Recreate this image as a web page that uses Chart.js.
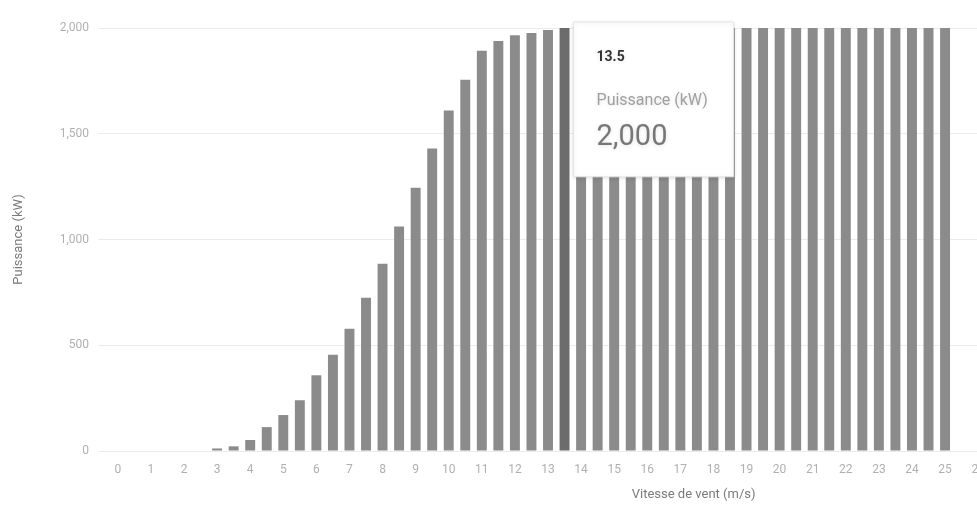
<!DOCTYPE html>
<html>
<head>
<meta charset="utf-8">
<script src="https://cdn.jsdelivr.net/npm/chart.js@4.4.1/dist/chart.umd.min.js"></script>
<style>
  html, body { margin: 0; padding: 0; background: #ffffff; overflow: hidden; }
  #wrap { position: absolute; left: 0; top: 0; width: 1010px; height: 513px; }
</style>
</head>
<body>
<div id="wrap"><canvas id="c"></canvas></div>
<script>
// ---- data ----
const windSpeeds = [0, 0.5, 1, 1.5, 2, 2.5, 3, 3.5, 4, 4.5, 5, 5.5, 6, 6.5, 7, 7.5, 8, 8.5, 9, 9.5,
  10, 10.5, 11, 11.5, 12, 12.5, 13, 13.5, 14, 14.5, 15, 15.5, 16, 16.5, 17, 17.5, 18, 18.5, 19, 19.5,
  20, 20.5, 21, 21.5, 22, 22.5, 23, 23.5, 24, 24.5, 25];
const powerKW = [0, 0, 0, 0, 0, 0, 12, 22, 52, 113, 170, 240, 358, 455, 578, 725, 885, 1062, 1245, 1430,
  1610, 1755, 1892, 1938, 1966, 1976, 1990, 2000, 2000, 2000, 2000, 2000, 2000, 2000, 2000, 2000, 2000, 2000, 2000, 2000,
  2000, 2000, 2000, 2000, 2000, 2000, 2000, 2000, 2000, 2000, 2000];
const xTickValues = [0, 1, 2, 3, 4, 5, 6, 7, 8, 9, 10, 11, 12, 13, 14, 15, 16, 17, 18, 19, 20, 21, 22, 23, 24, 25, 26];
const yTickValues = [0, 500, 1000, 1500, 2000];
const seriesName = 'Puissance (kW)';
const xTitle = 'Vitesse de vent (m/s)';
const yTitle = 'Puissance (kW)';
const tooltipIndex = 27; // 13.5 m/s

const FONT = 'Roboto, "Noto Sans", Arial, sans-serif';
const fmt = new Intl.NumberFormat('en-US');

Chart.Tooltip.positioners.besideBar = function (elements) {
  if (!elements.length) return false;
  const el = elements[0].element;
  return { x: el.x + 9, y: this.chart.chartArea.top - 6 };
};

const xTitlePlugin = {
  id: 'xTitlePlugin',
  afterDraw(chart) {
    const xs = chart.scales.x;
    const ctx = chart.ctx;
    ctx.save();
    ctx.font = '13px ' + FONT;
    ctx.fillStyle = '#7a7a7a';
    ctx.textAlign = 'center';
    ctx.textBaseline = 'middle';
    ctx.fillText(xTitle, xs.getPixelForValue(17.4), xs.top + 44);
    ctx.restore();
  }
};

const tooltipShadow = {
  id: 'tooltipShadow',
  beforeTooltipDraw(chart) {
    const ctx = chart.ctx;
    ctx.save();
    ctx.shadowColor = 'rgba(0,0,0,0.12)';
    ctx.shadowBlur = 4;
    ctx.shadowOffsetY = 1;
  },
  afterTooltipDraw(chart) {
    chart.ctx.restore();
  }
};

const chart = new Chart(document.getElementById('c'), {
  type: 'bar',
  data: {
    datasets: [{
      label: seriesName,
      data: windSpeeds.map((s, i) => ({ x: s, y: powerKW[i] })),
      backgroundColor: '#8b8b8b',
      hoverBackgroundColor: '#6c6c6c',
      borderWidth: 0,
      barPercentage: 0.6,
      categoryPercentage: 1.0
    }]
  },
  options: {
    locale: 'en-US',
    responsive: true,
    maintainAspectRatio: false,
    animation: false,
    events: [],
    layout: { padding: { left: 0, top: 28, right: 12, bottom: 0 } },
    plugins: {
      legend: { display: false },
      tooltip: {
        enabled: true,
        position: 'besideBar',
        xAlign: 'left',
        yAlign: 'top',
        caretSize: 0,
        caretPadding: 0,
        cornerRadius: 0,
        displayColors: false,
        backgroundColor: '#ffffff',
        borderColor: '#e4e4e4',
        borderWidth: 1,
        padding: { top: 27, left: 23, right: 26, bottom: 22 },
        titleColor: '#333333',
        titleFont: { family: FONT, size: 14, weight: 'bold' },
        titleMarginBottom: 26,
        bodyColor: '#a0a0a0',
        bodyFont: { family: FONT, size: 16, weight: 'normal' },
        footerColor: '#777777',
        footerFont: { family: FONT, size: 29, weight: 'normal' },
        footerMarginTop: 9,
        callbacks: {
          title: (items) => String(windSpeeds[items[0].dataIndex]),
          label: () => seriesName,
          footer: (items) => fmt.format(powerKW[items[0].dataIndex])
        }
      }
    },
    scales: {
      x: {
        type: 'linear',
        offset: false,
        min: -0.6,
        max: 26.6,
        afterBuildTicks: (s) => { s.ticks = xTickValues.map(v => ({ value: v })); },
        afterFit: (s) => { s.height = 62; },
        grid: { display: false, drawTicks: false },
        border: { display: false },
        ticks: {
          padding: 12,
          color: '#b0b0b0',
          font: { family: FONT, size: 12 },
          maxRotation: 0,
          autoSkip: false,
          callback: (v) => String(v)
        }
      },
      y: {
        min: 0,
        max: 2000,
        afterBuildTicks: (s) => { s.ticks = yTickValues.map(v => ({ value: v })); },
        afterFit: (s) => { s.width = 98; },
        grid: { color: '#ebebeb', lineWidth: 1, drawTicks: false },
        border: { display: false },
        ticks: {
          padding: 9,
          color: '#b0b0b0',
          font: { family: FONT, size: 12 },
          callback: (v) => fmt.format(v)
        },
        title: {
          display: true,
          text: yTitle,
          color: '#7a7a7a',
          font: { family: FONT, size: 13 },
          padding: { top: 11, bottom: 0 }
        }
      }
    }
  },
  plugins: [xTitlePlugin, tooltipShadow]
});

const act = [{ datasetIndex: 0, index: tooltipIndex }];
chart.setActiveElements(act);
chart.tooltip.setActiveElements(act, { x: 0, y: 0 });
chart.update();
</script>
</body>
</html>
